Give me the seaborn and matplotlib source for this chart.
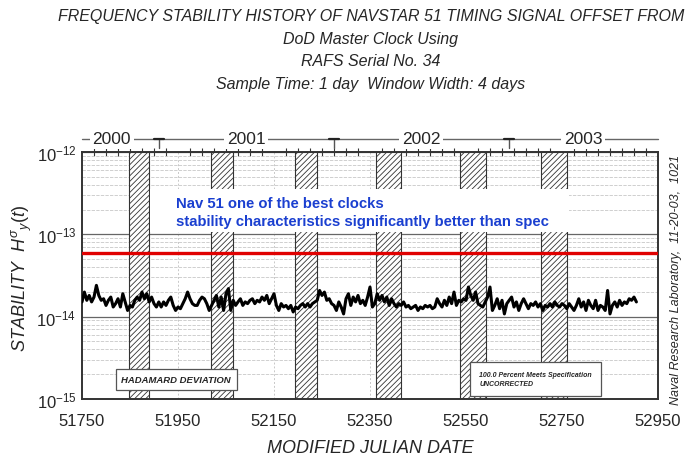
# Frekvensstabilitet NAVSTAR 51 - gjenskaping med seaborn
import numpy as np
import pandas as pd
import matplotlib
matplotlib.use("Agg")
import matplotlib.pyplot as plt
import seaborn as sns
from matplotlib.ticker import (MultipleLocator, FixedLocator, LogLocator,
                               NullFormatter, LogFormatterSciNotation)
from matplotlib.patches import Rectangle
import matplotlib.transforms as mtransforms

# Hadamard-avvik (enhet 1e-14), ca. hver 5. dag fra MJD 51750
stab_e14 = [
    1.51, 1.99, 1.58, 1.81, 1.51, 1.73, 2.40, 1.81, 1.58, 1.65,
    1.37, 1.58, 1.73, 1.31, 1.44, 1.65, 1.31, 1.90, 1.51, 1.19,
    1.37, 1.31, 1.58, 1.73, 1.58, 1.99, 1.65, 1.90, 1.51, 1.73,
    1.44, 1.31, 1.51, 1.31, 1.51, 1.37, 1.58, 1.73, 1.37, 1.19,
    1.31, 1.25, 1.44, 1.65, 1.99, 1.65, 1.44, 1.37,
    1.37, 1.58, 1.73, 1.65, 1.44, 1.19, 1.37, 1.58, 1.81, 1.31,
    1.73, 1.19, 1.90, 2.19, 1.19, 1.58, 1.37, 1.51, 1.65, 1.37,
    1.51, 1.44, 1.58, 1.65, 1.44, 1.58, 1.51, 1.73, 1.58, 1.81,
    1.44, 1.65, 1.90, 1.37, 1.19, 1.44, 1.31, 1.37, 1.25, 1.37,
    1.14, 1.31, 1.25, 1.37, 1.44, 1.31,
    1.44, 1.31, 1.44, 1.51, 1.58, 2.08, 1.81, 1.99, 1.58, 1.65,
    1.44, 1.37, 1.19, 1.51, 1.31, 1.08, 1.65, 1.90, 1.37, 1.73,
    1.51, 1.81, 1.44, 1.58, 1.37, 1.73, 2.29, 1.31, 1.44, 1.90,
    1.58, 1.81, 1.51, 1.73, 1.37, 1.65, 1.44, 1.31, 1.44, 1.37,
    1.51, 1.31, 1.37, 1.25, 1.31,
    1.37, 1.19, 1.31, 1.25, 1.37, 1.31, 1.37, 1.25, 1.31, 1.65,
    1.44, 1.31, 1.58, 1.37, 1.73, 1.44, 1.99, 1.37, 1.58, 1.51,
    1.65, 1.58, 2.29, 1.81, 1.58, 1.99, 1.44, 1.37, 1.31, 1.51,
    1.73, 2.29, 1.19, 1.37, 1.65, 1.25, 1.58, 1.08, 1.44, 1.58,
    1.73, 1.31, 1.51, 1.19, 1.44, 1.65, 1.44, 1.25,
    1.44, 1.37, 1.51, 1.31, 1.44, 1.19, 1.37, 1.31, 1.44, 1.31,
    1.51, 1.37, 1.31, 1.44, 1.37, 1.25, 1.44, 1.31, 1.19, 1.37,
    1.65, 1.31, 1.51, 1.19, 1.58, 1.37, 1.25, 1.58, 1.19, 1.37,
    1.31, 1.19, 2.08, 1.08, 1.37, 1.51, 1.31, 1.58, 1.37, 1.51,
    1.44, 1.65, 1.58, 1.73, 1.51,
]
start_mjd = 51750
step_dager = 5

# Formørkelsesperioder (skravert)
formorkelse_start = [51848, 52018, 52194, 52362, 52538, 52707]
formorkelse_slutt = [51890, 52064, 52240, 52415, 52591, 52760]

aar = ["2000", "2001", "2002", "2003"]
aar_midt = [51812, 52092, 52456, 52794]
aarskifte = [51910, 52275, 52640]

y_tikker = [1e-15, 1e-14, 1e-13, 1e-12]
spesifikasjon = 5.95e-14

df = pd.DataFrame({
    "mjd": start_mjd + step_dager * np.arange(len(stab_e14)),
    "stab": np.array(stab_e14) * 1e-14,
})

sns.set_style("white")
plt.rcParams["font.family"] = ["Liberation Sans", "DejaVu Sans"]
plt.rcParams["mathtext.fontset"] = "custom"
plt.rcParams["mathtext.rm"] = "Liberation Sans"
plt.rcParams["mathtext.it"] = "Liberation Sans:italic"
plt.rcParams["hatch.linewidth"] = 0.6

fig = plt.figure(figsize=(6.92, 4.60), dpi=100)
ax = fig.add_axes([82 / 692, 60 / 460, 576 / 692, 247 / 460])
ax.set_yscale("log")
ax.set_xlim(51750, 52950)
ax.set_ylim(1e-15, 1e-12)

# Rutenett og tikker
ax.yaxis.set_major_locator(FixedLocator(y_tikker))
ax.yaxis.set_major_formatter(LogFormatterSciNotation())
ax.yaxis.set_minor_locator(LogLocator(base=10, subs=np.arange(2, 10)))
ax.yaxis.set_minor_formatter(NullFormatter())
ax.xaxis.set_major_locator(MultipleLocator(200, offset=150))
ax.xaxis.set_minor_locator(MultipleLocator(25))
ax.grid(which="major", axis="y", color="#666666", lw=0.9, ls="-")
ax.grid(which="minor", axis="y", color="#c8c8c8", lw=0.6, ls=(0, (4, 1.5)))
ax.grid(which="major", axis="x", color="#c8c8c8", lw=0.7, ls=(0, (2, 2)))
ax.set_axisbelow(True)

# Skraverte bånd
for a, b in zip(formorkelse_start, formorkelse_slutt):
    ax.axvspan(a, b, facecolor="white", edgecolor="#333333", hatch="//////",
               lw=0.8, zorder=2)

# Hvit boks bak den blå teksten
ax.add_patch(Rectangle((51891, 1.06e-13), 52765 - 51891, 3.55e-13 - 1.06e-13,
                       facecolor="white", edgecolor="none", zorder=3))
ax.text(51946, 2.38e-13, "Nav 51 one of the best clocks", color="#1a3fd0",
        fontsize=10.7, fontweight="bold", zorder=4, va="center")
ax.text(51946, 1.45e-13, "stability characteristics significantly better than spec",
        color="#1a3fd0", fontsize=10.7, fontweight="bold", zorder=4, va="center")

ax.axhline(spesifikasjon, color="#e00000", lw=2.4, zorder=5)

sns.lineplot(data=df, x="mjd", y="stab", color="black", lw=2.2, ax=ax, zorder=6)

# Forklaringsbokser
ax.text(51832, 1.72e-15, "HADAMARD DEVIATION", fontsize=6.8, style="italic",
        fontweight="bold", va="center", zorder=7,
        bbox=dict(boxstyle="square,pad=0.6", fc="white", ec="#555555", lw=0.9))
ax.text(52578, 1.75e-15, "100.0 Percent Meets Specification\nUNCORRECTED",
        fontsize=5.0, style="italic", fontweight="bold", va="center", zorder=7,
        linespacing=1.5,
        bbox=dict(boxstyle="square,pad=1.3", fc="white", ec="#555555", lw=0.9))

# Akser og etiketter
ax.set_xlabel("MODIFIED JULIAN DATE", fontsize=13, style="italic", labelpad=8)
ax.set_ylabel("")
for s in ax.spines.values():
    s.set_color("#333333")
    s.set_linewidth(1.4)
ax.tick_params(axis="x", which="major", direction="out", length=6, width=1,
               color="#333333", labelsize=12, pad=4)
ax.tick_params(axis="x", which="minor", direction="inout", length=6, width=0.8,
               color="#333333", top=True)
ax.tick_params(axis="y", which="both", length=0, labelsize=12, pad=4)

# Årsstolpe over plottet
trans = mtransforms.blended_transform_factory(ax.transData, ax.transAxes)
ax.plot([51750, 52950], [1.053, 1.053], color="#666666", lw=1.0,
        transform=trans, clip_on=False)
for x in aarskifte:
    ax.plot([x, x], [1.053, 1.015], color="#555555", lw=1.0,
            transform=trans, clip_on=False)
    ax.plot([x - 10, x + 10], [1.053, 1.053], color="#222222", lw=1.6,
            transform=trans, clip_on=False)
for lbl, x in zip(aar, aar_midt):
    ax.text(x, 1.053, lbl, transform=trans, ha="center", va="center",
            fontsize=12.5, bbox=dict(fc="white", ec="none", pad=2))

# Titler
fig.text(0.536, 1 - 16 / 460,
         "FREQUENCY STABILITY HISTORY OF NAVSTAR 51 TIMING SIGNAL OFFSET FROM",
         ha="center", va="center", fontsize=11.5, style="italic")
fig.text(0.536, 1 - 40 / 460, "DoD Master Clock Using", ha="center",
         va="center", fontsize=11.5, style="italic")
fig.text(0.536, 1 - 62 / 460, "RAFS Serial No. 34", ha="center",
         va="center", fontsize=11.5, style="italic")
fig.text(0.536, 1 - 85 / 460, "Sample Time: 1 day  Window Width: 4 days",
         ha="center", va="center", fontsize=11.5, style="italic")

fig.text(22 / 692, 1 - 278 / 460, r"STABILITY  $H^{\sigma}{}_{y}(t)$",
         rotation=90, ha="center", va="center", fontsize=13, style="italic")
fig.text(676 / 692, 1 - 280 / 460, "Naval Research Laboratory,  11-20-03,  1021",
         rotation=90, ha="center", va="center", fontsize=9, style="italic")

fig.savefig("out.png", dpi=100)
